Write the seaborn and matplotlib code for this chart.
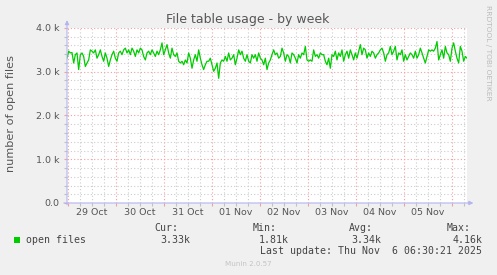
import numpy as np
import pandas as pd
import matplotlib
matplotlib.use("Agg")
import matplotlib.pyplot as plt
from matplotlib.patches import Rectangle
import seaborn as sns

# ---------------- data ----------------
title = "File table usage - by week"
y_label = "number of open files"
series_name = "open files"
start_time = "2025-10-28 23:30"
sample_step = "50min"
x_start = "2025-10-28 23:30"
x_end = "2025-11-06 07:30"

# open files (thousands), one sample every 50 minutes
open_files_k = [
    3.31, 3.47, 3.43, 3.44, 3.20, 3.39, 3.43, 3.05, 3.39, 3.43,
    3.35, 3.12, 3.20, 3.27, 3.50, 3.47, 3.43, 3.50, 3.31, 3.39,
    3.50, 3.35, 3.24, 3.43, 3.31, 3.12, 3.27, 3.39, 3.47, 3.31,
    3.24, 3.43, 3.47, 3.39, 3.50, 3.54, 3.43, 3.50, 3.39, 3.54,
    3.47, 3.35, 3.50, 3.43, 3.54, 3.50, 3.35, 3.27, 3.43, 3.47,
    3.39, 3.50, 3.43, 3.35, 3.47, 3.39, 3.50, 3.66, 3.39, 3.50,
    3.62, 3.43, 3.31, 3.54, 3.39, 3.35, 3.43, 3.24, 3.20, 3.24,
    3.16, 3.27, 3.20, 3.43, 3.31, 3.08, 3.27, 3.39, 3.24, 3.50,
    3.31, 3.16, 3.05, 3.16, 3.24, 3.24, 3.31, 3.16, 3.01, 3.08,
    3.20, 2.85, 3.20, 3.27, 3.24, 3.35, 3.24, 3.43, 3.27, 3.31,
    3.39, 3.16, 3.31, 3.50, 3.39, 3.47, 3.31, 3.24, 3.39, 3.24,
    3.20,
    3.39, 3.31, 3.39, 3.24, 3.43, 3.31, 3.27, 3.16, 3.31, 3.05,
    3.20, 3.27, 3.39, 3.50, 3.39, 3.43, 3.31, 3.35, 3.54, 3.43,
    3.24, 3.39, 3.35, 3.20, 3.43, 3.39, 3.31, 3.20, 3.39, 3.31,
    3.43, 3.39, 3.58, 3.27, 3.24, 3.27, 3.24, 3.50, 3.35, 3.39,
    3.31, 3.43, 3.39, 3.39, 3.24, 3.16, 3.31, 3.08, 3.39, 3.35,
    3.47, 3.27, 3.43, 3.35, 3.50, 3.24, 3.39, 3.47, 3.31, 3.50,
    3.39, 3.27, 3.43, 3.31, 3.47, 3.62, 3.39, 3.54, 3.50, 3.31,
    3.43, 3.35, 3.47, 3.43, 3.31, 3.39, 3.43, 3.50, 3.54, 3.43,
    3.24, 3.39, 3.43, 3.58, 3.39, 3.47, 3.58, 3.27, 3.43, 3.39,
    3.50, 3.24, 3.39, 3.27, 3.35, 3.43, 3.39, 3.31, 3.47, 3.31,
    3.39, 3.54, 3.43, 3.31, 3.20, 3.35, 3.50, 3.47, 3.50, 3.47,
    3.54, 3.69, 3.27, 3.39, 3.50, 3.31, 3.58, 3.43, 3.39, 3.24,
    3.54, 3.66, 3.47, 3.31, 3.20, 3.58, 3.47, 3.24, 3.35, 3.31,
]

day_dates = ["2025-10-29", "2025-10-30", "2025-10-31", "2025-11-01",
             "2025-11-02", "2025-11-03", "2025-11-04", "2025-11-05",
             "2025-11-06"]
day_labels = ["29 Oct", "30 Oct", "31 Oct", "01 Nov", "02 Nov",
              "03 Nov", "04 Nov", "05 Nov", ""]

y_ticks = [0, 1000, 2000, 3000, 4000]
y_tick_labels = ["0.0", "1.0 k", "2.0 k", "3.0 k", "4.0 k"]
y_minor_step = 200

stat_names = ["Cur:", "Min:", "Avg:", "Max:"]
stat_values = ["3.33k", "1.81k", "3.34k", "4.16k"]
last_update = "Last update: Thu Nov  6 06:30:21 2025"
side_text = "RRDTOOL / TOBI OETIKER"
footer = "Munin 2.0.57"

# ---------------- build frame ----------------
times = pd.date_range(start_time, periods=len(open_files_k), freq=sample_step)
df = pd.DataFrame({"time": times,
                   series_name: np.array(open_files_k) * 1000.0})

W, H = 497, 275
BG = "#F0F0F0"
TXT = "#555555"
GREEN = "#00CC00"
RED = "#F0A0A0"
MINOR = "#CCCCCC"
AXIS = "#B4B4F0"

fig = plt.figure(figsize=(W / 100, H / 100), dpi=100, facecolor=BG)

def px(x, y):
    return x / W, 1 - y / H

ax = fig.add_axes([67 / W, (H - 203) / H, 400 / W, 175 / H])
ax.set_facecolor("white")

sns.lineplot(data=df, x="time", y=series_name, color=GREEN,
             linewidth=0.9, ax=ax, legend=False)

# x ticks: midnights major (red grid), 6-hourly minor, labels at noon
x0, x1 = pd.Timestamp(x_start), pd.Timestamp(x_end)
midnights = [pd.Timestamp(d) for d in day_dates]
minor_pos, minor_lab = [], []
for d, lab in zip(day_dates, day_labels):
    base = pd.Timestamp(d)
    for h, l in ((-6, ""), (6, ""), (12, lab), (18, "")):
        t = base + pd.Timedelta(hours=h)
        if x0 <= t <= x1 and t not in minor_pos:
            minor_pos.append(t)
            minor_lab.append(l)
ax.set_xticks(midnights, labels=[""] * len(midnights))
ax.set_xticks(minor_pos, labels=minor_lab, minor=True)
ax.set_xlim(x0, x1)

# y ticks
ax.set_yticks(y_ticks, labels=y_tick_labels)
y_minor = [v for v in range(0, y_ticks[-1] + 1, y_minor_step) if v not in y_ticks]
ax.set_yticks(y_minor, minor=True)
ax.set_ylim(y_ticks[0], y_ticks[-1])

ax.tick_params(axis="both", which="major", length=2, width=0.8, color=RED,
               labelcolor=TXT, labelsize=6.8)
ax.tick_params(axis="both", which="minor", length=2, width=0.8, color="#C0C0C0",
               labelcolor=TXT, labelsize=6.8)
ax.tick_params(axis="x", which="both", pad=1.5)
ax.tick_params(axis="y", which="both", pad=3.6)

ax.grid(which="minor", color=MINOR, linestyle=(0, (1, 2)), linewidth=0.8)
ax.grid(which="major", color=RED, linestyle=(0, (1, 2)), linewidth=0.8)
ax.set_axisbelow(True)

for s in ax.spines.values():
    s.set_visible(False)
ax.set_xlabel("")
ax.set_ylabel("")

# axis lines with arrows
ax.annotate("", xy=(0, 1.045), xytext=(0, -0.01), xycoords="axes fraction",
            arrowprops=dict(arrowstyle="-|>", color=AXIS, lw=0.8,
                            mutation_scale=6, shrinkA=0, shrinkB=0),
            annotation_clip=False)
ax.annotate("", xy=(1.016, 0), xytext=(-0.008, 0), xycoords="axes fraction",
            arrowprops=dict(arrowstyle="-|>", color=AXIS, lw=0.8,
                            mutation_scale=6, shrinkA=0, shrinkB=0),
            annotation_clip=False)

# texts
fig.text(*px(248, 19), title, ha="center", va="center", fontsize=9, color=TXT)
fig.text(*px(11.5, 114), y_label, ha="center", va="center", rotation=90,
         fontsize=8.1, color=TXT)
fig.text(*px(488, 53), side_text, ha="center", va="center", rotation=270,
         fontsize=5.4, color="#BBBBBB")

mono = dict(family="DejaVu Sans Mono", fontsize=7.1, color="#444444")
fig.patches.append(Rectangle(px(14, 243), 6 / W, 6 / H, transform=fig.transFigure,
                             facecolor=GREEN, edgecolor="none"))
fig.text(*px(26, 240), series_name, ha="left", va="center", **mono)
name_x = [154, 253, 349, 447]
val_x = [160, 259, 351, 453]
for nx, vx, n, v in zip(name_x, val_x, stat_names, stat_values):
    fig.text(*px(nx, 228), n, ha="left", va="center", **mono)
    fig.text(*px(vx, 240), v, ha="left", va="center", **mono)
fig.text(*px(482, 251.5), last_update, ha="right", va="center", **mono)
fig.text(*px(248, 264), footer, ha="center", va="center", fontsize=5.1,
         color="#C4C4C4")

fig.savefig("out.png", dpi=100, facecolor=BG)
